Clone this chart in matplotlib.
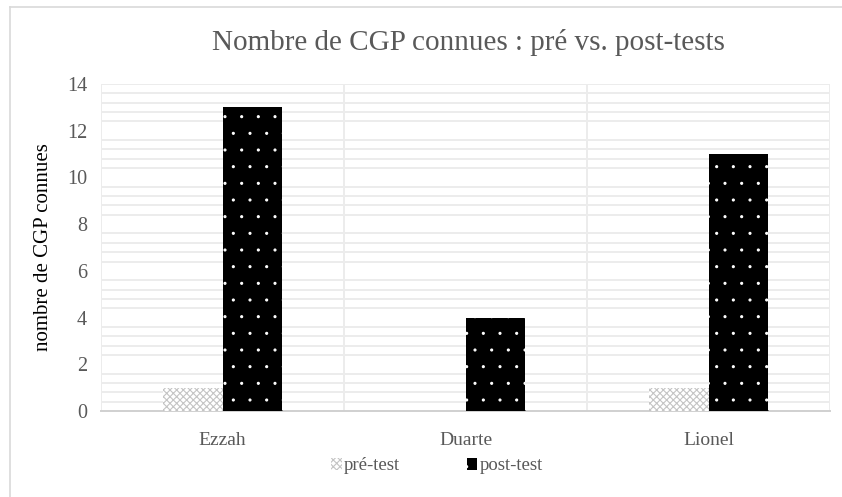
import matplotlib.pyplot as plt
import matplotlib.hatch
import numpy as np
from matplotlib.patches import Patch
from matplotlib.lines import Line2D

# donnees
eleves = ['Ezzah', 'Duarte', 'Lionel']
pre_test = [1, 0, 1]
post_test = [13, 4, 11]
yticks = [0, 2, 4, 6, 8, 10, 12, 14]

gris = '#595959'
plt.rcParams['font.family'] = ['Liberation Serif', 'DejaVu Serif']
plt.rcParams['hatch.linewidth'] = 0.8
# points plus petits pour le motif '.'
matplotlib.hatch.SmallFilledCircles.size = 0.06

fig = plt.figure(figsize=(8.42, 4.97), dpi=100)
ax = fig.add_axes([101/842, 1-411/497, (830-101)/842, (411-84)/497])

x = np.arange(len(eleves))
w = 0.243
ax.bar(x - w/2, pre_test, w, facecolor='white', edgecolor='#c4c4c4', hatch='xxxxx', linewidth=0, zorder=3)
ax.bar(x + w/2, post_test, w, facecolor='black', edgecolor='white', hatch='.', linewidth=0, zorder=3)
# trait noir sous les barres post-test
for xi in x:
    ax.plot([xi, xi + w], [-0.02, -0.02], color='black', lw=2, zorder=4, solid_capstyle='butt')

ax.set_xlim(-0.5, len(eleves) - 0.5)
ax.set_ylim(0, 14)

# grille secondaire tous les 0.4 (sans les graduations principales)
mineurs = [v for v in np.arange(0.4, 14.0, 0.4) if abs(v/2 - round(v/2)) > 1e-6]
for v in mineurs:
    ax.axhline(v, color='#ececec', lw=1.4, zorder=1)
for v in [-0.5, 0.5, 1.5, 2.5]:
    ax.axvline(v, color='#ececec', lw=1.4, zorder=1)
ax.axhline(14, color='#ececec', lw=1.4, zorder=1)

ax.set_yticks(yticks)
ax.set_xticks(x)
ax.set_xticklabels(eleves)
ax.tick_params(axis='y', length=0, pad=10, labelsize=14.5, labelcolor=gris)
ax.tick_params(axis='x', length=0, pad=15, labelsize=14, labelcolor=gris)
for s in ['top', 'right', 'left']:
    ax.spines[s].set_visible(False)
ax.spines['bottom'].set_color('#d0d0d0')
ax.spines['bottom'].set_linewidth(1.4)

ax.set_ylabel('nombre de CGP connues', fontsize=15, color='black', labelpad=10)
fig.text(468/842, 1-42/497, 'Nombre de CGP connues : pré vs. post-tests', ha='center', va='center',
         fontsize=21, color=gris)

handles = [Patch(facecolor='white', edgecolor='#c4c4c4', hatch='xxxxx', linewidth=0),
           Patch(facecolor='black', edgecolor='white', hatch='.', linewidth=0)]
fig.legend(handles, ['pré-test', 'post-test'], loc='center', bbox_to_anchor=(437/842, 1-466/497),
           ncol=2, frameon=False, fontsize=13.5, handlelength=0.55, handleheight=0.55,
           handletextpad=0.1, columnspacing=3.6, labelcolor=gris)

# cadre du graphique (gauche et haut)
fig.add_artist(Line2D([10/842, 10/842], [0, 1-7/497], color='#d9d9d9', lw=1.2))
fig.add_artist(Line2D([10/842, 1], [1-7/497, 1-7/497], color='#d9d9d9', lw=1.2))

fig.savefig('out.png', dpi=100)
